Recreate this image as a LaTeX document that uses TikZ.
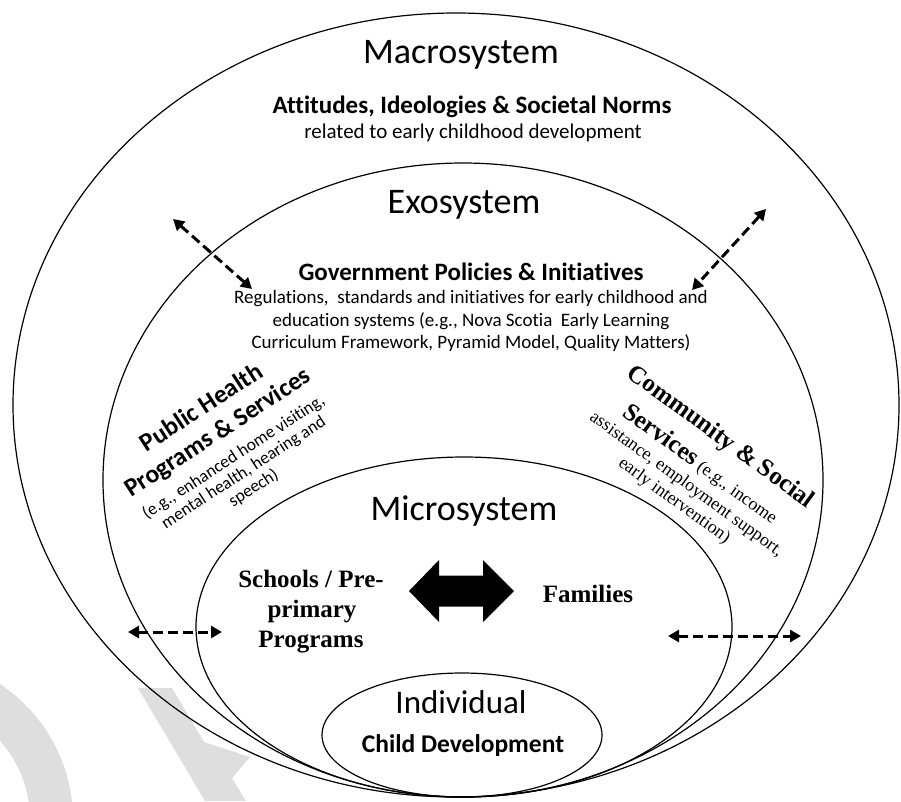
\documentclass[tikz,border=0pt]{standalone}
\usepackage{fontspec}
\setmainfont{Carlito}[Ligatures=NoCommon]
\newfontfamily\tms{Liberation Serif}
\usetikzlibrary{arrows.meta,shapes.geometric}
\begin{document}
\begin{tikzpicture}[x=1pt,y=-1pt,
  sys/.style={ellipse, draw=black, line width=1.2pt, inner sep=0pt},
  title/.style={font=\fontsize{36}{42}\selectfont, anchor=base, inner sep=0pt},
  boldl/.style={font=\fontsize{25}{30}\selectfont\bfseries, anchor=base, inner sep=0pt},
  smalll/.style={font=\fontsize{19}{22}\selectfont, anchor=base, inner sep=0pt},
  tmsb/.style={font=\tms\fontsize{25}{30}\selectfont\bfseries, anchor=base, inner sep=0pt},
  dasharrow/.style={{Triangle[length=11pt,width=12pt]}-{Triangle[length=11pt,width=12pt]}, line width=3pt, dash pattern=on 10pt off 5pt},
  wm/.style={fill=black!13}
]
\useasboundingbox (0,0) rectangle (901,801);
\fill[white] (0,0) rectangle (901,801);
% watermark
\begin{scope}
\clip (0,0) rectangle (901,801);
\fill[wm, even odd rule] (-90,820) circle[radius=163pt] (-90,820) circle[radius=120pt];
\fill[wm] (138,688) -- (172,688) -- (204,742) -- (250,757) -- (232,778) -- (246,801) -- (205,801) -- cycle;
\end{scope}
% systems
\node[sys, minimum width=886pt, minimum height=784pt] (macro) at (456,405) {};
\node[sys, minimum width=720pt, minimum height=634pt] (exo) at (463,480) {};
\node[sys, minimum width=536pt, minimum height=340pt] (micro) at (464,627) {};
\node[sys, minimum width=280pt, minimum height=124pt] (indiv) at (462,735) {};
% macro texts
\node[title] (macrot) at (461,63) {Macrosystem};
\node[boldl] (att) at (472,113) {Attitudes, Ideologies \& Societal Norms};
\node[smalll, font=\fontsize{21}{25}\selectfont] (rel) at (473,138) {related to early childhood development};
% exo texts
\node[title] (exot) at (464,213) {Exosystem};
\node[boldl] (gov) at (471,280) {Government Policies \& Initiatives};
\node[smalll] (reg1) at (471,303) {Regulations,\ \ standards and initiatives for early childhood and};
\node[smalll] (reg2) at (471,326) {education systems (e.g., Nova Scotia\ \ Early Learning};
\node[smalll] (reg3) at (471,348) {Curriculum Framework, Pyramid Model, Quality Matters)};
\node[rotate=33, align=center, inner sep=0pt, font=\fontsize{17.5}{18.5}\selectfont] (pub) at (227,447)
  {{\fontsize{25.5}{28}\selectfont\bfseries Public Health}\\[11pt]
   {\fontsize{25.5}{28}\selectfont\bfseries Programs \& Services}\\[8pt]
   (e.g., enhanced home visiting,\\
   mental health, hearing and\\
   speech)};
\node[rotate=-36, align=center, inner sep=0pt, font=\tms\fontsize{18}{20.5}\selectfont] (comm) at (698,468)
  {{\fontsize{25}{30}\selectfont\bfseries Community \& Social}\\[10pt]
   {\fontsize{25}{30}\selectfont\bfseries Services} (e.g., income\\[2pt]
   assistance, employment support,\\
   early intervention)};
% micro texts
\node[title] (microt) at (464,520) {Microsystem};
\node[tmsb] (sch1) at (311,587) {Schools / Pre-};
\node[tmsb] (sch2) at (312,617) {primary};
\node[tmsb] (sch3) at (311,647) {Programs};
\node[tmsb] (fam) at (588,602) {Families};
\coordinate (dbl) at (461.5,591);
\fill (dbl) ++(-52.5,0) -- ++(30,-31) -- ++(0,15.5) -- ++(44,0) -- ++(0,-15.5) -- ++(31,31)
  -- ++(-31,31) -- ++(0,-15.5) -- ++(-44,0) -- ++(0,15.5) -- cycle;
% individual
\node[title, font=\fontsize{33}{38}\selectfont] (indt) at (461,713) {Individual};
\node[boldl, font=\fontsize{25.5}{30}\selectfont\bfseries] (child) at (463,752) {Child Development};
% dashed arrows
\coordinate (a1s) at (173,219); \coordinate (a1e) at (252,289);
\coordinate (a2s) at (766,209); \coordinate (a2e) at (692,290);
\coordinate (a3s) at (128,632); \coordinate (a3e) at (222,632);
\coordinate (a4s) at (668,636); \coordinate (a4e) at (801,636);
\draw[dasharrow] (a1s) -- (a1e);
\draw[dasharrow] (a2s) -- (a2e);
\draw[dasharrow] (a3s) -- (a3e);
\draw[dasharrow] (a4s) -- (a4e);
\end{tikzpicture}
\end{document}
